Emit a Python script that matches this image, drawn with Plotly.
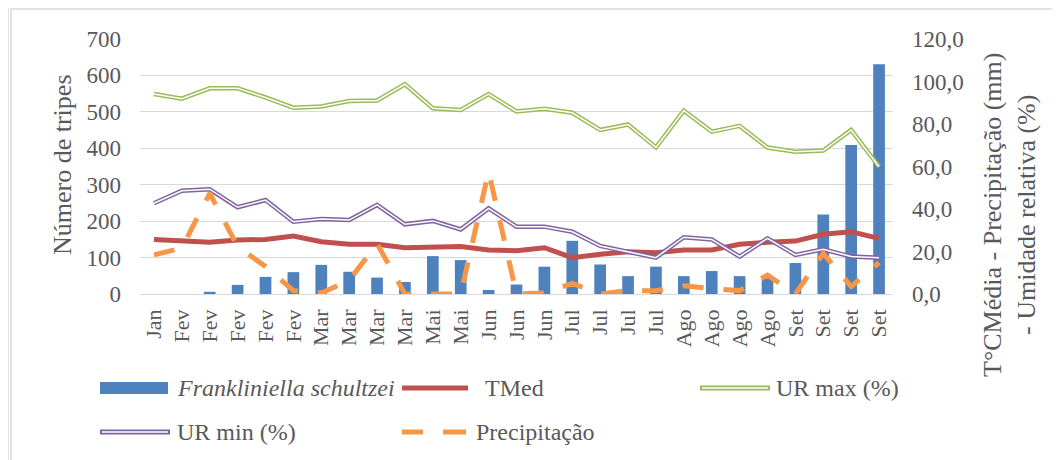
import plotly.graph_objects as go

# categorias (meses das coletas)
meses = ["Jan", "Fev", "Fev", "Fev", "Fev", "Fev", "Mar", "Mar", "Mar", "Mar",
         "Mai", "Mai", "Jun", "Jun", "Jun", "Jul", "Jul", "Jul", "Jul",
         "Ago", "Ago", "Ago", "Ago", "Set", "Set", "Set", "Set"]

# número de tripes (eixo esquerdo)
tripes = [0, 0, 6, 25, 47, 60, 80, 61, 45, 33, 104, 93, 11, 26, 75, 146, 81,
          49, 75, 49, 63, 49, 42, 85, 218, 409, 631]

# variáveis climáticas (eixo direito)
tmed = [25.7, 25.1, 24.3, 25.4, 25.7, 27.3, 24.6, 23.4, 23.4, 21.8, 21.8, 22.3,
        20.7, 20.4, 21.8, 17.1, 18.7, 19.9, 19.4, 20.7, 20.7, 23.4, 24.3, 24.9,
        28.1, 29.3, 26.2]
ur_max = [94.1, 91.9, 96.8, 96.8, 92.5, 87.7, 88.2, 90.8, 91.1, 98.7, 87.4, 86.6,
          94.1, 85.9, 87.2, 85.3, 77.2, 79.8, 69.0, 86.3, 76.4, 79.1, 68.9, 67.0,
          67.5, 77.2, 59.9]
ur_min = [42.7, 48.6, 49.3, 40.8, 44.2, 34.0, 35.3, 34.8, 41.9, 32.8, 34.4, 30.4,
          40.3, 31.7, 31.7, 29.3, 22.6, 19.9, 17.1, 26.7, 25.7, 17.6, 26.2, 18.4,
          21.0, 17.6, 17.1]
precip = [18.4, 21.6, 47.4, 22.3, 12.9, 1.6, 0.5, 6.4, 23.7, 0, 0, 0, 57.6, 0,
          0.5, 5.0, 0, 1.6, 1.5, 3.9, 2.5, 1.6, 8.9, 0, 19.1, 3.5, 14.8]

x = list(range(len(meses)))

FONT = "Liberation Serif, DejaVu Serif, serif"
GREY = "#595959"
AZUL = "#4F81BD"
VERM = "#C0504D"
VERDE = "#9BBB59"
ROXO = "#8064A2"
LARANJA = "#F79646"

# área do gráfico na tela: x 140..893, y 39..294 (a página desloca tudo 8 px)
def px(p):
    return (p - 140) / 753


def py(p):
    return (294 - p) / 255


fig = go.Figure()

fig.add_trace(go.Bar(x=x, y=tripes, marker=dict(color=AZUL, line=dict(width=0)),
                     name="Frankliniella schultzei", yaxis="y"))
fig.add_trace(go.Scatter(x=x, y=tmed, mode="lines", line=dict(color=VERM, width=5), yaxis="y2"))
for serie, cor in [(ur_max, VERDE), (ur_min, ROXO)]:
    fig.add_trace(go.Scatter(x=x, y=serie, mode="lines", line=dict(color=cor, width=4.5), yaxis="y2"))
    fig.add_trace(go.Scatter(x=x, y=serie, mode="lines", line=dict(color="white", width=1.5), yaxis="y2"))
fig.add_trace(go.Scatter(x=x, y=precip, mode="lines",
                         line=dict(color=LARANJA, width=5, dash="21px,20px"), yaxis="y2"))

# legenda desenhada à mão (duas linhas, três colunas)
shapes = []
annots = []
shapes.append(dict(type="rect", xref="paper", yref="paper", x0=px(100), x1=px(168),
                   y0=py(394), y1=py(382), fillcolor=AZUL, line=dict(width=0)))
shapes.append(dict(type="line", xref="paper", yref="paper", x0=px(402), x1=px(468),
                   y0=py(388), y1=py(388), line=dict(color=VERM, width=5)))
for (x0, x1, yy, cor) in [(700, 770, 388, VERDE), (100, 170, 432, ROXO)]:
    shapes.append(dict(type="line", xref="paper", yref="paper", x0=px(x0), x1=px(x1),
                       y0=py(yy), y1=py(yy), line=dict(color=cor, width=5)))
    shapes.append(dict(type="line", xref="paper", yref="paper", x0=px(x0 + 2), x1=px(x1 - 2),
                       y0=py(yy), y1=py(yy), line=dict(color="white", width=1.5)))
for (x0, x1) in [(402, 423), (443, 466)]:
    shapes.append(dict(type="line", xref="paper", yref="paper", x0=px(x0), x1=px(x1),
                       y0=py(432), y1=py(432), line=dict(color=LARANJA, width=5)))

for (tx, xx, yy) in [("<i>Frankliniella schultzei</i>", 175, 388), ("TMed", 483, 388),
                     ("UR max (%)", 774, 388), ("UR min (%)", 175, 432),
                     ("Precipitação", 474, 432)]:
    annots.append(dict(text=tx, x=px(xx), y=py(yy), xref="paper", yref="paper",
                       xanchor="left", yanchor="middle", showarrow=False,
                       font=dict(family=FONT, size=24, color=GREY)))

# títulos dos eixos
annots.append(dict(text="Número de tripes", x=px(62), y=py(165), xref="paper", yref="paper",
                   xanchor="center", yanchor="middle",
                   textangle=-90, showarrow=False, font=dict(family=FONT, size=26, color=GREY)))
annots.append(dict(text="T°CMédia - Precipitação (mm)<br>- Umidade relativa (%)",
                   x=px(1009), y=py(215), xref="paper", yref="paper", textangle=-90,
                   xanchor="center", yanchor="middle",
                   showarrow=False, font=dict(family=FONT, size=26, color=GREY)))

# moldura do gráfico
shapes.append(dict(type="rect", xref="paper", yref="paper", x0=px(11), x1=px(1070),
                   y0=py(470), y1=py(9), line=dict(color="#D9D9D9", width=1.5)))
shapes.append(dict(type="line", xref="paper", yref="paper", x0=px(8), x1=px(8),
                   y0=py(470), y1=py(0), line=dict(color="#D9D9D9", width=1.5)))

fig.update_layout(
    width=1060, height=460,
    margin=dict(l=132, r=175, t=31, b=174),
    paper_bgcolor="white", plot_bgcolor="white",
    showlegend=False,
    bargap=0.58,
    separators=",.",
    font=dict(family=FONT, color=GREY),
    xaxis=dict(range=[-0.5, 26.5], tickmode="array", tickvals=x, ticktext=meses,
               tickangle=-90, tickfont=dict(family=FONT, size=22, color=GREY), showgrid=False,
               zeroline=False, showline=False, ticks="", ticklabelstandoff=10),
    yaxis=dict(range=[0, 700], dtick=100, tickfont=dict(family=FONT, size=23, color=GREY),
               gridcolor="#D9D9D9", gridwidth=1.3, zeroline=True, zerolinecolor="#D9D9D9",
               zerolinewidth=1.3, ticklabelstandoff=18),
    yaxis2=dict(range=[0, 120], dtick=20, tickformat=".1f", overlaying="y", side="right",
                showgrid=False, zeroline=False, tickfont=dict(family=FONT, size=23, color=GREY),
                ticklabelstandoff=18),
    shapes=shapes,
    annotations=annots,
)

fig.write_html("out.html")
